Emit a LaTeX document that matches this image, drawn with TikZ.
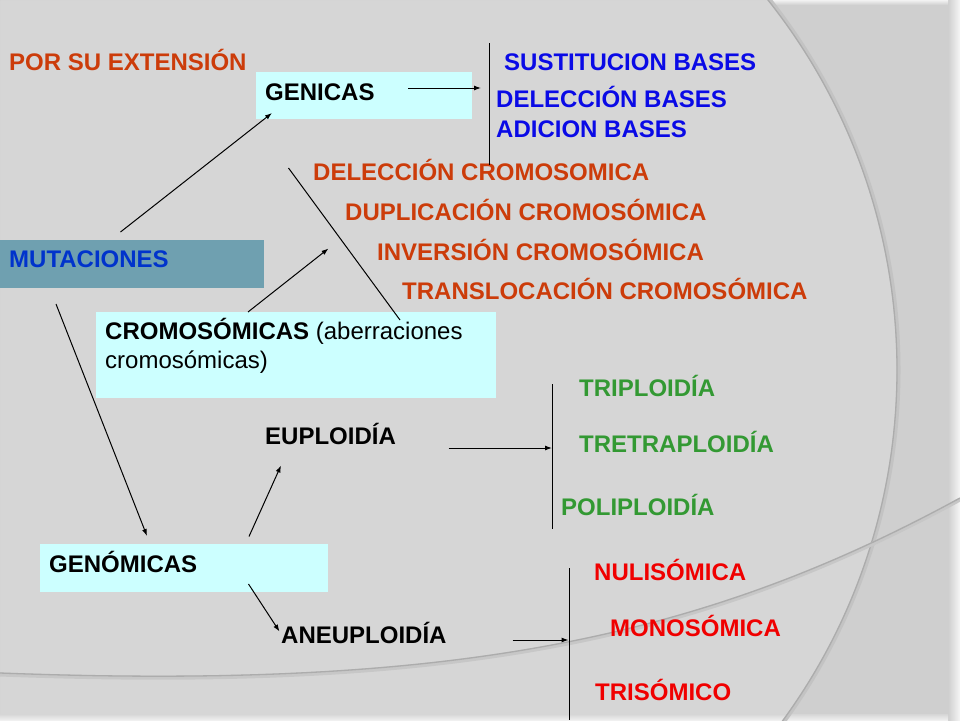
\documentclass[tikz,border=0pt]{standalone}
\usepackage{fontspec}
\setmainfont{Liberation Sans}
\usetikzlibrary{arrows.meta}
\definecolor{bgin}{RGB}{214,214,214}
\definecolor{bgout}{RGB}{207,207,207}
\definecolor{arcshadow}{RGB}{172,172,172}
\definecolor{cyanbox}{RGB}{204,255,255}
\definecolor{mutbox}{RGB}{111,160,176}
\definecolor{orred}{RGB}{204,60,10}
\definecolor{tblue}{RGB}{10,10,230}
\definecolor{mblue}{RGB}{0,51,204}
\definecolor{tgreen}{RGB}{51,153,51}
\definecolor{tred}{RGB}{240,0,0}
\begin{document}
\begin{tikzpicture}[x=1pt,y=-1pt,
  lbl/.style={inner sep=0pt, anchor=base west, font=\fontsize{24}{29}\selectfont\bfseries},
  plain/.style={inner sep=0pt, anchor=base west, font=\fontsize{24}{29}\selectfont},
  cbox/.style={fill=cyanbox, draw=none, inner sep=0pt, anchor=north west},
  arr/.style={-{Latex[length=7pt,width=5pt]}, line width=1pt},
  ln/.style={line width=1pt}]
\useasboundingbox (0,0) rectangle (960,720);
% background
\fill[bgin] (0,0) rectangle (960,720);
\fill[bgout, even odd rule] (0,0) rectangle (960,720) (302,370) circle[radius=595pt];
\shade[left color=bgout, right color=white!93!gray] (948,0) rectangle (960,720);
\shade[top color=white!90!gray, bottom color=bgin] (770,0) rectangle (948,4);
\shade[top color=bgin, bottom color=white!88!gray] (0,714) rectangle (948,720);
\begin{scope}
\clip (0,0) rectangle (960,720);
\draw[arcshadow!35!bgout, line width=4pt] (302,370) circle[radius=596.5pt];
\draw[arcshadow, line width=1.3pt] (302,370) circle[radius=595pt];
\draw[arcshadow!35!bgin, line width=4pt] (0,674.5) .. controls (450,691.5) and (700,641.5) .. (960,499.5);
\draw[arcshadow, line width=1.3pt] (0,673) .. controls (450,690) and (700,640) .. (960,498);
\end{scope}
% boxes
\node (genbox) [cbox, minimum width=216pt, minimum height=47pt] at (256,72) {};
\node (mutbox) [fill=mutbox, inner sep=0pt, anchor=north west, minimum width=264pt, minimum height=48pt] at (0,240) {};
\node (crombox) [cbox, minimum width=400pt, minimum height=86pt] at (96,312) {};
\node (genobox) [cbox, minimum width=288pt, minimum height=48pt] at (40,544) {};
% texts
\node (por) [lbl, text=orred] at (9,70) {POR SU EXTENSIÓN};
\node (genicas) [lbl] at (265,100) {GENICAS};
\node (sust) [lbl, text=tblue] at (504,70) {SUSTITUCION BASES};
\node (delb) [lbl, text=tblue] at (496,107) {DELECCIÓN BASES};
\node (adib) [lbl, text=tblue] at (496,137) {ADICION BASES};
\node (mut) [lbl, text=mblue] at (9,267) {MUTACIONES};
\node (delc) [lbl, text=orred] at (313,180) {DELECCIÓN CROMOSOMICA};
\node (dupc) [lbl, text=orred] at (345,220) {DUPLICACIÓN CROMOSÓMICA};
\node (invc) [lbl, text=orred] at (377,260) {INVERSIÓN CROMOSÓMICA};
\node (tranc) [lbl, text=orred] at (402,299) {TRANSLOCACIÓN CROMOSÓMICA};
\node (crom1) [plain] at (105,339) {\textbf{CROMOSÓMICAS} (aberraciones};
\node (crom2) [plain] at (105,368) {cromosómicas)};
\node (eup) [lbl] at (265,444) {EUPLOIDÍA};
\node (trip) [lbl, text=tgreen] at (579,396) {TRIPLOIDÍA};
\node (tetr) [lbl, text=tgreen] at (579,452) {TRETRAPLOIDÍA};
\node (poli) [lbl, text=tgreen] at (561,515) {POLIPLOIDÍA};
\node (genom) [lbl] at (49,572) {GENÓMICAS};
\node (aneu) [lbl] at (281,643) {ANEUPLOIDÍA};
\node (nuli) [lbl, text=tred] at (594,580) {NULISÓMICA};
\node (mono) [lbl, text=tred] at (610,636) {MONOSÓMICA};
\node (tris) [lbl, text=tred] at (595,700) {TRISÓMICO};
% connector coordinates
\coordinate (gA) at (408,88);
\coordinate (gB) at (481,88);
\coordinate (vgT) at (489,43);
\coordinate (vgB) at (489,165);
\coordinate (mA) at (120.5,232);
\coordinate (mB) at (272,113);
\coordinate (cA) at (248,312);
\coordinate (cB) at (328.5,248.5);
\coordinate (lA) at (288.5,168);
\coordinate (lB) at (400,320);
\coordinate (mdA) at (56,304);
\coordinate (mdB) at (147,536);
\coordinate (eA) at (249,536.5);
\coordinate (eB) at (281,465.5);
\coordinate (eR1) at (448.5,448);
\coordinate (eR2) at (552,448);
\coordinate (veT) at (552,384);
\coordinate (veB) at (552,529);
\coordinate (aA) at (248.5,584);
\coordinate (aB) at (279.5,631.5);
\coordinate (aR1) at (512.5,640);
\coordinate (aR2) at (568.5,640);
\coordinate (vaT) at (569,568);
\coordinate (vaB) at (569,720);
% connectors
\draw[arr] (gA) -- (gB);
\draw[ln] (vgT) -- (vgB);
\draw[arr] (mA) -- (mB);
\draw[arr] (cA) -- (cB);
\draw[ln] (lA) -- (lB);
\draw[arr] (mdA) -- (mdB);
\draw[arr] (eA) -- (eB);
\draw[arr] (eR1) -- (eR2);
\draw[ln] (veT) -- (veB);
\draw[arr] (aA) -- (aB);
\draw[arr] (aR1) -- (aR2);
\draw[ln] (vaT) -- (vaB);
\end{tikzpicture}
\end{document}
